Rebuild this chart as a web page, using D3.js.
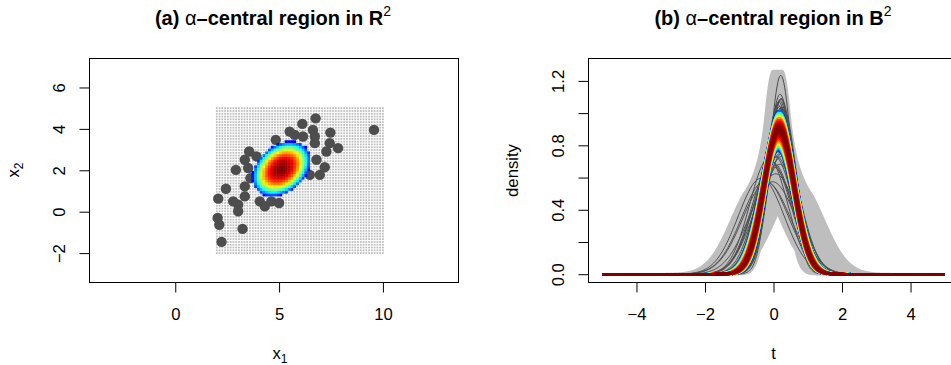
<!DOCTYPE html>
<html>
<head>
<meta charset="utf-8">
<script src="https://cdn.jsdelivr.net/npm/d3@7"></script>
<style>
  body { margin: 0; background: #fff; }
  svg { display: block; font-family: "Liberation Sans", Arial, Helvetica, sans-serif; }
</style>
</head>
<body>
<div class="chart"></div>
<script>
var sampleX1 = [6.76, 6.12, 9.57, 5.51, 5.75, 6.15, 6.63, 6.72, 7.47, 7.44, 4.84, 6.72, 7.28, 7.84,
  3.56, 3.35, 3.91, 3.51, 2.92, 6.80, 7.20, 6.96, 6.48, 3.62, 2.44, 3.35, 3.35, 2.07, 2.79, 3.03,
  3.03, 4.07, 4.31, 4.63, 5.00, 2.04, 2.12, 3.24, 2.23, 4.6, 5.5, 4.3];
var sampleX2 = [4.51, 4.24, 3.95, 3.87, 3.71, 3.63, 3.95, 3.63, 3.82, 3.31, 3.47, 3.31, 2.91, 3.07,
  2.91, 2.51, 2.67, 2.11, 2.02, 2.51, 2.15, 1.78, 1.78, 1.62, 1.11, 1.22, 0.74, 0.63, 0.50, 0.34,
  0.02, 0.50, 0.26, 0.50, 0.42, -0.30, -0.63, -0.83, -1.46, 2.5, 1.6, 1.5];

// evaluation grid of panel (a): limits and number of points per side
var gridX1Limits = [2, 10];
var gridX2Limits = [-2, 5];
var gridCounts = [61, 53];

// central region
var regionCentre = [5.1, 2.08];
var regionSpread = [[1.95, 0.6], [0.6, 1.75]];

// colour ramp from low depth to high depth
var depthColours = ["#00007F", "#0000FF", "#007FFF", "#00FFFF", "#7FFF7F", "#FFFF00", "#FF7F00", "#FF0000", "#7F0000"];

// mapping from a point (x1, x2) to its density curve in panel (b)
var meanShift = 0.12;
var meanSlope = 0.36;
var x2Centre = 1.5;
var tLimits = [-5, 5];

// ticks
var xTicksA = [0, 5, 10];
var yTicksA = [-2, 0, 2, 4, 6];
var xTicksB = [-4, -2, 0, 2, 4];
var yTicksB = [0, 0.2, 0.4, 0.6, 0.8, 1.0, 1.2];
var yLabelsB = ["0.0", "", "0.4", "", "0.8", "", "1.2"];

var fontSize = 16.67;

var svg = d3.select(".chart").append("svg")
  .attr("width", 951)
  .attr("height", 365);

// scales
var xA = d3.scaleLinear().domain([-4.13, 13.64]).range([89.5, 458.5]);
var yA = d3.scaleLinear().domain([-3.42, 7.40]).range([282.5, 58.5]);
var xB = d3.scaleLinear().domain([-5.4, 5.4]).range([588.5, 958.5]);
var yB = d3.scaleLinear().domain([-0.0515, 1.339]).range([282.5, 58.5]);

// grid
function seq(lim, n) {
  return d3.range(n).map(function(i) { return lim[0] + i * (lim[1] - lim[0]) / (n - 1); });
}
var gridX1 = seq(gridX1Limits, gridCounts[0]);
var gridX2 = seq(gridX2Limits, gridCounts[1]);
var grid = [];
gridX1.forEach(function(a) {
  gridX2.forEach(function(b) { grid.push({ x1: a, x2: b }); });
});

// depth of each grid point inside the central region
var det = regionSpread[0][0] * regionSpread[1][1] - regionSpread[0][1] * regionSpread[1][0];
function radius(p) {
  var dx = p.x1 - regionCentre[0], dy = p.x2 - regionCentre[1];
  var q = (regionSpread[1][1] * dx * dx - 2 * regionSpread[0][1] * dx * dy + regionSpread[0][0] * dy * dy) / det;
  return Math.sqrt(q);
}
var ramp = d3.piecewise(d3.interpolateRgb, depthColours);
var central = grid.filter(function(p) {
  p.r = radius(p);
  return p.r <= 1;
});
central.forEach(function(p) { p.depth = 0.11 + 0.89 * (1 - Math.pow(p.r, 2.1)); });
central.sort(function(a, b) { return a.depth - b.depth; });

// ---------- panel (a) ----------
svg.append("clipPath").attr("id", "clipA").append("rect")
  .attr("x", 89.5).attr("y", 58.5).attr("width", 369).attr("height", 224);
var gA = svg.append("g").attr("clip-path", "url(#clipA)");

gA.selectAll(".gdot").data(grid).enter().append("rect")
  .attr("x", function(d) { return xA(d.x1) - 0.9; })
  .attr("y", function(d) { return yA(d.x2) - 0.9; })
  .attr("width", 1.8).attr("height", 1.8)
  .attr("fill", "#BEBEBE");

var sample = sampleX1.map(function(v, i) { return { x1: v, x2: sampleX2[i] }; });

gA.selectAll(".pt").data(sample).enter().append("circle")
  .attr("cx", function(d) { return xA(d.x1); })
  .attr("cy", function(d) { return yA(d.x2); })
  .attr("r", 5.2)
  .attr("fill", "#4D4D4D");

var cw = xA(gridX1[1]) - xA(gridX1[0]);
var ch = yA(gridX2[0]) - yA(gridX2[1]);
gA.selectAll(".cell").data(central).enter().append("rect")
  .attr("x", function(d) { return xA(d.x1) - cw / 2; })
  .attr("y", function(d) { return yA(d.x2) - ch / 2; })
  .attr("width", cw + 0.4).attr("height", ch + 0.4)
  .attr("fill", function(d) { return ramp(d.depth); });

svg.append("rect").attr("x", 89.5).attr("y", 58.5).attr("width", 369).attr("height", 224)
  .attr("fill", "none").attr("stroke", "#000");

// ---------- panel (b) ----------
var tGrid = d3.range(tLimits[0], tLimits[1] + 1e-9, 0.025);
function density(t, p) {
  var mu = meanShift + meanSlope * (p.x2 - x2Centre) / p.x1;
  return Math.sqrt(p.x1 / (2 * Math.PI)) * Math.exp(-p.x1 * (t - mu) * (t - mu) / 2);
}

svg.append("clipPath").attr("id", "clipB").append("rect")
  .attr("x", 588.5).attr("y", 58.5).attr("width", 370).attr("height", 224);
var gB = svg.append("g").attr("clip-path", "url(#clipB)");

// band swept by the curves of all grid points
var band = tGrid.map(function(t) {
  var lo = Infinity, hi = -Infinity;
  grid.forEach(function(p) {
    var v = density(t, p);
    if (v < lo) lo = v;
    if (v > hi) hi = v;
  });
  return { t: t, lo: lo, hi: hi };
});
gB.append("path").datum(band)
  .attr("d", d3.area().x(function(d) { return xB(d.t); })
    .y0(function(d) { return yB(d.lo); })
    .y1(function(d) { return yB(d.hi); }))
  .attr("fill", "#BEBEBE").attr("stroke", "#BEBEBE").attr("stroke-width", 2.5);

var line = d3.line().x(function(d) { return xB(d[0]); }).y(function(d) { return yB(d[1]); });

gB.selectAll(".obs").data(sample).enter().append("path")
  .attr("d", function(p) { return line(tGrid.map(function(t) { return [t, density(t, p)]; })); })
  .attr("fill", "none").attr("stroke", "#4D4D4D").attr("stroke-width", 1);

gB.selectAll(".cen").data(central).enter().append("path")
  .attr("d", function(p) { return line(tGrid.map(function(t) { return [t, density(t, p)]; })); })
  .attr("fill", "none")
  .attr("stroke", function(d) { return ramp(d.depth); })
  .attr("stroke-width", 2.6);

svg.append("rect").attr("x", 588.5).attr("y", 58.5).attr("width", 370).attr("height", 224)
  .attr("fill", "none").attr("stroke", "#000");

// ---------- axes ----------
function bottomAxis(scale, ticks, labels, y) {
  var g = svg.append("g").attr("transform", "translate(0," + y + ")")
    .call(d3.axisBottom(scale).tickValues(ticks).tickSize(10).tickSizeOuter(0));
  g.select(".domain").remove();
  g.selectAll("line").attr("stroke", "#000");
  g.selectAll("text").attr("y", 37.5).attr("dy", null)
    .attr("font-size", fontSize).attr("font-family", null).attr("fill", "#000")
    .text(function(d, i) { return labels[i]; });
}
function leftAxis(scale, ticks, labels, x) {
  var g = svg.append("g").attr("transform", "translate(" + x + ",0)")
    .call(d3.axisLeft(scale).tickValues(ticks).tickSize(10).tickSizeOuter(0));
  g.select(".domain").remove();
  g.selectAll("line").attr("stroke", "#000");
  g.selectAll("text")
    .attr("x", -25).attr("y", 0).attr("dy", null)
    .attr("transform", "rotate(-90,-25,0)")
    .attr("text-anchor", "middle")
    .attr("font-size", fontSize).attr("font-family", null).attr("fill", "#000")
    .text(function(d, i) { return labels[i]; });
}
function minus(v) { return v < 0 ? "\u2212" + (-v) : String(v); }
bottomAxis(xA, xTicksA, xTicksA.map(String), 282.5);
leftAxis(yA, yTicksA, yTicksA.map(minus), 89.5);
bottomAxis(xB, xTicksB, xTicksB.map(minus), 282.5);
leftAxis(yB, yTicksB, yLabelsB, 588.5);

// ---------- titles and axis labels ----------
function title(cx, letter, space) {
  var t = svg.append("text").attr("x", cx).attr("y", 25).attr("text-anchor", "middle")
    .attr("font-size", 20);
  t.append("tspan").attr("font-weight", "bold").text(letter + " ");
  t.append("tspan").text("\u03b1");
  t.append("tspan").attr("font-weight", "bold").text("\u2013central region in " + space);
  t.append("tspan").attr("font-size", 14).attr("dy", -9).text("2");
}
title(273, "(a)", "R");
title(773, "(b)", "B");

function subLabel(x, y, base, sub, rotate) {
  var t = svg.append("text").attr("x", x).attr("y", y).attr("text-anchor", "middle")
    .attr("font-size", fontSize);
  if (rotate) t.attr("transform", "rotate(-90," + x + "," + y + ")");
  t.append("tspan").text(base);
  if (sub) t.append("tspan").attr("font-size", 12).attr("dy", 4).text(sub);
}
subLabel(280, 359, "x", "1", false);
subLabel(18.5, 170, "x", "2", true);
subLabel(773.5, 359, "t", null, false);
subLabel(517.5, 170.5, "density", null, true);
</script>
</body>
</html>
